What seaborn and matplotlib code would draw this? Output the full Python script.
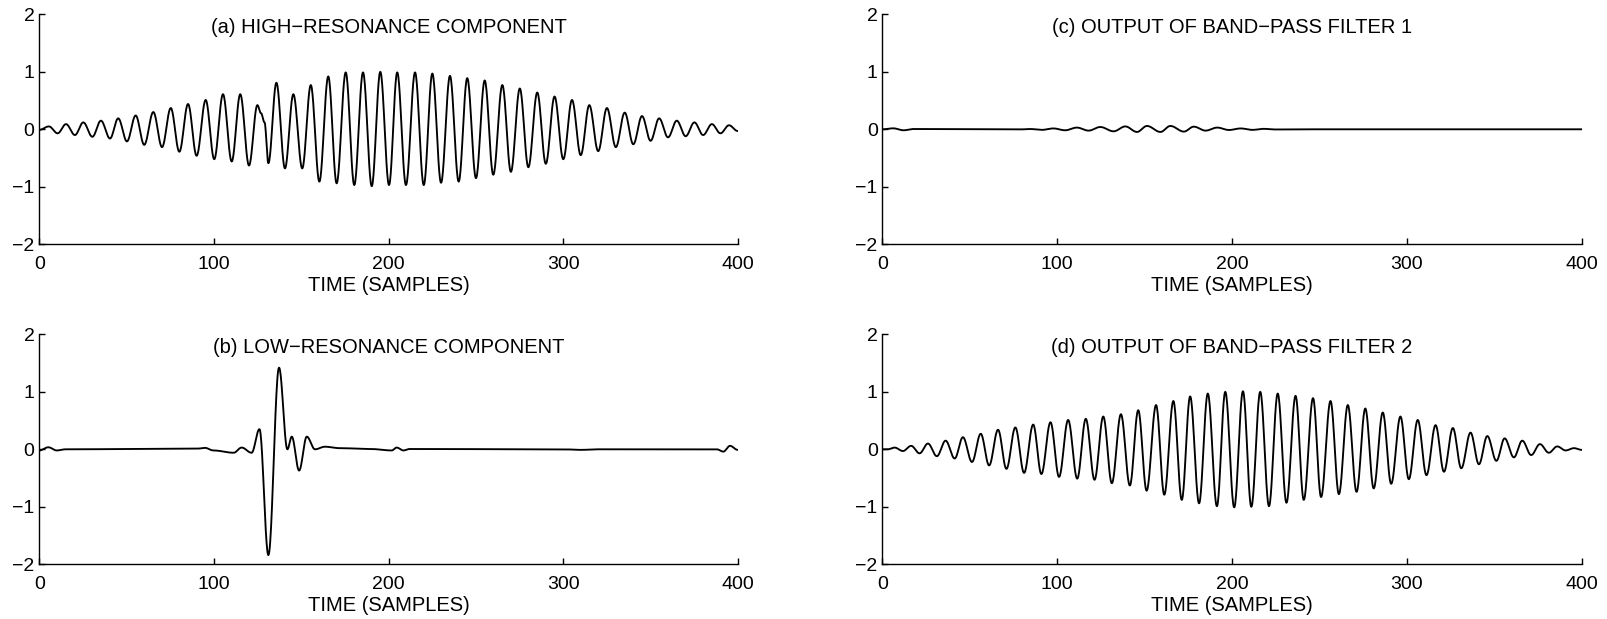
import numpy as np
import pandas as pd
import matplotlib
matplotlib.use("Agg")
import matplotlib.pyplot as plt
import seaborn as sns

# Extrema (sample index, amplitude) of each signal
high_t = [0, 5.5, 10.5, 15.3, 20.4, 25.2, 30.4, 35.3, 40.5, 45.2, 50.2, 55.2, 60.1, 65.3, 70.3,
          75.3, 80.2, 85.2, 90.1, 95.3, 100.2, 105.2, 110.2, 115.1, 120.1, 124.9, 127.0, 129.0,
          131.2, 135.8, 140.7, 145.5, 150.6, 155.5, 160.4, 165.5, 170.3, 175.5, 180.4, 185.4,
          190.4, 195.3, 200.3, 205.0, 210.0, 215.2, 220.2, 225.1, 230.1, 235.2, 240.2, 245.1,
          250.1, 255.1, 260.0, 265.2, 270.1, 275.2, 280.1, 285.2, 290.1, 295.1, 300.1, 305.1,
          310.1, 315.0, 320.1, 325.1, 330.2, 335.3, 340.2, 345.2, 350.1, 355.0, 360.1, 365.1,
          370.2, 375.2, 380.2, 385.2, 390.1, 395.0, 400]
high_v = [-0.01, 0.05, -0.07, 0.09, -0.10, 0.12, -0.13, 0.15, -0.16, 0.19, -0.21, 0.24, -0.27,
          0.30, -0.31, 0.37, -0.39, 0.44, -0.46, 0.51, -0.52, 0.61, -0.56, 0.61, -0.63, 0.42,
          0.28, 0.12, -0.59, 0.81, -0.68, 0.61, -0.68, 0.77, -0.91, 0.92, -0.94, 0.99, -0.97,
          0.99, -0.99, 1.00, -0.97, 0.99, -0.97, 0.99, -0.97, 0.97, -0.93, 0.93, -0.91, 0.89,
          -0.85, 0.85, -0.79, 0.77, -0.74, 0.71, -0.66, 0.64, -0.60, 0.57, -0.52, 0.51, -0.45,
          0.42, -0.38, 0.37, -0.31, 0.29, -0.26, 0.23, -0.20, 0.19, -0.14, 0.15, -0.12, 0.12,
          -0.10, 0.09, -0.07, 0.07, -0.03]

low_t = [0, 5.2, 10, 15, 60, 90, 94.9, 99.7, 111.3, 115.9, 121.6, 126.1, 131.2, 137.3, 142.1,
         144.6, 148.8, 153.2, 157.9, 163.6, 172, 190, 201.8, 204.7, 208.5, 212, 300, 310, 320,
         388, 391.8, 395.6, 400]
low_v = [-0.02, 0.035, -0.02, 0.0, 0.005, 0.01, 0.025, -0.02, -0.06, 0.03, -0.06, 0.35, -1.84,
         1.42, 0.0, 0.22, -0.37, 0.22, 0.0, 0.045, 0.02, 0.005, -0.02, 0.03, -0.02, 0.005, 0.0,
         -0.01, 0.0, 0.0, -0.04, 0.06, -0.01]

bp1_t = [0, 6.2, 12, 17.7, 70, 77.7, 84.4, 91.1, 97.8, 104.5, 111.2, 117.9, 124.6, 132.2, 138.9,
         145.6, 151.3, 159, 164.7, 172.4, 178.1, 184.8, 191.5, 198.2, 204.9, 211.6, 218, 225,
         240, 400]
bp1_v = [0.0, 0.017, -0.017, 0.005, 0.0, -0.003, 0.005, -0.01, 0.015, -0.017, 0.03, -0.023,
         0.04, -0.035, 0.05, -0.046, 0.058, -0.046, 0.058, -0.04, 0.046, -0.023, 0.03, -0.012,
         0.015, -0.01, 0.008, -0.003, 0.0, 0.0]

bp2_t = [0, 3, 6.9, 11.7, 16.4, 21.2, 26, 31.1, 36.1, 41.3, 46, 51.2, 56.2, 61, 66.1, 70.9, 76,
         81, 86.2, 90.9, 96.1, 101, 106.2, 111.4, 116.3, 121.3, 126.3, 131.2, 136.4, 141.5,
         146.3, 151.1, 156.5, 161.2, 166.4, 171.2, 176, 181.1, 186.1, 191.3, 196.1, 201.2,
         206.2, 211, 216.1, 221.1, 226.1, 231.1, 236.3, 241, 246.3, 250.9, 256.3, 261.1, 266.2,
         271.2, 276.2, 281, 286.2, 291, 296.3, 301.1, 306.2, 311.2, 316.4, 321.2, 326.3, 331.1,
         336.4, 341.2, 346, 351.2, 355.9, 361.2, 366, 371.1, 376.1, 381.2, 386, 390.8, 395.6, 400]
bp2_v = [0.0, 0.0, 0.03, -0.03, 0.06, -0.07, 0.10, -0.12, 0.15, -0.16, 0.21, -0.22, 0.27, -0.28,
         0.34, -0.34, 0.38, -0.41, 0.43, -0.43, 0.47, -0.48, 0.51, -0.51, 0.53, -0.53, 0.57,
         -0.59, 0.61, -0.63, 0.68, -0.72, 0.77, -0.79, 0.84, -0.88, 0.92, -0.94, 0.97, -0.99,
         1.00, -1.01, 1.01, -1.00, 1.00, -0.99, 0.97, -0.93, 0.93, -0.88, 0.89, -0.83, 0.84,
         -0.78, 0.77, -0.74, 0.71, -0.68, 0.64, -0.60, 0.57, -0.52, 0.51, -0.45, 0.42, -0.39,
         0.37, -0.33, 0.29, -0.26, 0.23, -0.20, 0.19, -0.14, 0.15, -0.10, 0.09, -0.06, 0.05,
         -0.02, 0.02, -0.01]

titles = ["(a) HIGH\u2212RESONANCE COMPONENT", "(b) LOW\u2212RESONANCE COMPONENT",
          "(c) OUTPUT OF BAND\u2212PASS FILTER 1", "(d) OUTPUT OF BAND\u2212PASS FILTER 2"]
x_ticks = [0, 100, 200, 300, 400]
y_ticks = [-2, -1, 0, 1, 2]
x_label = "TIME (SAMPLES)"


def smooth_trace(t, v, steps=24):
    """Join consecutive extrema with half-cosine arcs (zero slope at each extremum)."""
    xs, ys = [], []
    for i in range(len(t) - 1):
        s = np.linspace(0.0, 1.0, steps, endpoint=False)
        w = (1.0 - np.cos(np.pi * s)) / 2.0
        xs.append(t[i] + (t[i + 1] - t[i]) * s)
        ys.append(v[i] + (v[i + 1] - v[i]) * w)
    xs.append([t[-1]])
    ys.append([v[-1]])
    return pd.DataFrame({"sample": np.concatenate(xs), "value": np.concatenate(ys)})


sns.set_theme(style="ticks")
plt.rcParams["font.family"] = ["Liberation Sans", "DejaVu Sans"]
plt.rcParams["axes.unicode_minus"] = True
for key in ["text.color", "axes.labelcolor", "xtick.color", "ytick.color",
            "xtick.labelcolor", "ytick.labelcolor", "axes.edgecolor"]:
    plt.rcParams[key] = "black"

fig = plt.figure(figsize=(16.08, 6.19), dpi=100)
W, H = 1608.0, 619.0
col_x = [(39.3, 737.7), (882.5, 1581.7)]
row_y = [(14.3, 244.3), (334.3, 564.3)]

panels = [(0, 0, high_t, high_v), (1, 0, low_t, low_v), (0, 1, bp1_t, bp1_v), (1, 1, bp2_t, bp2_v)]
for k, (r, c, t, v) in enumerate(panels):
    x0, x1 = col_x[c]
    y0, y1 = row_y[r]
    ax = fig.add_axes([x0 / W, 1 - y1 / H, (x1 - x0) / W, (y1 - y0) / H])
    df = smooth_trace(t, v)
    sns.lineplot(data=df, x="sample", y="value", ax=ax, color="black", linewidth=1.35,
                 sort=False, estimator=None)
    ax.set_xlim(0, 400)
    ax.set_ylim(-2, 2)
    ax.set_xticks(x_ticks)
    ax.set_yticks(y_ticks)
    ax.set_ylabel("")
    ax.set_xlabel(x_label, fontsize=14.5, labelpad=2)
    ax.tick_params(direction="in", length=4.5, width=1.0, labelsize=14, colors="black")
    ax.tick_params(axis="y", pad=3.5)
    ax.tick_params(axis="x", pad=8.5)
    for side in ["top", "right"]:
        ax.spines[side].set_visible(False)
    for side in ["left", "bottom"]:
        ax.spines[side].set_linewidth(1.0)
        ax.spines[side].set_color("black")
    ax.text(0.5, 0.917, titles[k], transform=ax.transAxes,
            ha="center", va="baseline", fontsize=14.5, color="black")
    ax.set_facecolor("white")

fig.savefig("out.png", dpi=100, facecolor="white")
